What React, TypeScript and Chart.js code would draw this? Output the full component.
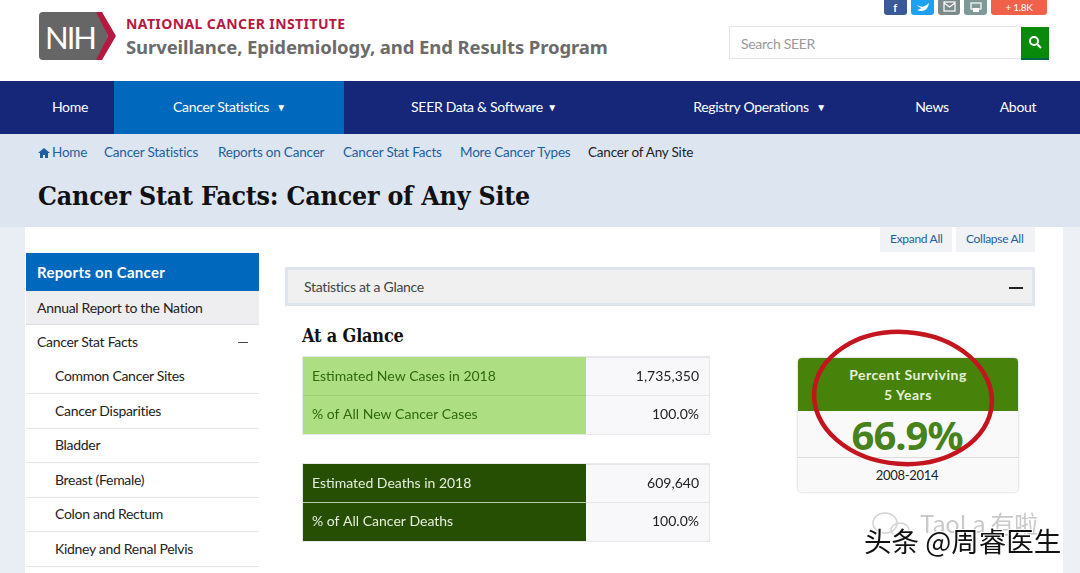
import { useRef, useEffect } from 'react'
import type { ReactNode } from 'react'
import { Chart, registerables } from 'chart.js'

Chart.register(...registerables)

const newCaseLabels = ['Estimated New Cases in 2018', '% of All New Cancer Cases']
const newCaseValues = ['1,735,350', '100.0%']
const deathLabels = ['Estimated Deaths in 2018', '% of All Cancer Deaths']
const deathValues = ['609,640', '100.0%']
const rowFill = [100, 100]
const sideItems = ['Common Cancer Sites', 'Cancer Disparities', 'Bladder', 'Breast (Female)', 'Colon and Rectum', 'Kidney and Renal Pelvis']

const SANS = 'Lato, "Noto Sans", sans-serif'
const SERIF = '"DejaVu Serif", serif'

interface GlanceProps {
  labels: string[]
  values: string[]
  fill: string
  text: string
  rule: string
  top: number
}

// tick labels on a vertical axis reserve room above and below the plot, which a table row can't spare
const noTickMargins = (scale: any, width: number) => {
  scale.width = width
  scale.paddingTop = 0
  scale.paddingBottom = 0
}

function GlanceTable({ labels, values, fill, text, rule, top }: GlanceProps) {
  const canvasRef = useRef<HTMLCanvasElement>(null)

  useEffect(() => {
    if (!canvasRef.current) return
    const chart = new Chart(canvasRef.current, {
      type: 'bar',
      data: {
        labels,
        datasets: [{ data: [...rowFill], backgroundColor: fill, barPercentage: 1, categoryPercentage: 1 }],
      },
      options: {
        indexAxis: 'y',
        responsive: true,
        maintainAspectRatio: false,
        animation: false,
        layout: { padding: 0 },
        plugins: { legend: { display: false }, tooltip: { enabled: false } },
        scales: {
          x: { display: false, min: 0, max: 100 },
          y: {
            position: 'left',
            border: { display: false },
            afterFit: (scale: any) => noTickMargins(scale, 0),
            // only the line between the two rows, not the outer edges
            grid: { offset: true, color: (ctx: any) => (ctx.index === 1 ? rule : 'transparent'), drawTicks: false, z: 1 },
            ticks: { mirror: true, padding: 9, z: 2, color: text, font: { family: 'Lato', size: 14 } },
          },
          y2: {
            type: 'category',
            labels: values,
            position: 'right',
            display: true,
            border: { display: false },
            afterFit: (scale: any) => noTickMargins(scale, 123),
            grid: { offset: true, drawOnChartArea: false, tickLength: 123, color: '#e6e6e8' },
            ticks: { mirror: true, padding: 113, color: '#222', font: { family: 'Lato', size: 14 } },
          },
        },
      },
    } as any)
    return () => { chart.destroy() }
  }, [])

  return (
    <div style={{ position: 'absolute', left: 303, top, width: 406, height: 77, background: '#f8f8fa', boxShadow: '0 0 0 1px #e8e8ea' }}>
      <canvas ref={canvasRef} style={{ display: 'block' }} />
    </div>
  )
}

interface TxtProps {
  x: number
  y: number
  size?: number
  color?: string
  weight?: number
  font?: string
  center?: boolean
  spacing?: number
  stretch?: string
  children: ReactNode
}

function Txt({ x, y, size = 14, color = '#222', weight = 400, font = SANS, center, spacing = -0.3, stretch, children }: TxtProps) {
  return (
    <div style={{
      position: 'absolute', left: x, top: y, whiteSpace: 'nowrap', fontFamily: font, fontSize: size, color,
      fontWeight: weight, letterSpacing: spacing, lineHeight: 1, fontStretch: stretch,
      transform: center ? 'translate(-50%,-50%)' : 'translateY(-50%)',
    }}>{children}</div>
  )
}

function Box({ x, y, w, h, bg, extra }: { x: number; y: number; w: number; h: number; bg: string; extra?: object }) {
  return <div style={{ position: 'absolute', left: x, top: y, width: w, height: h, background: bg, ...extra }} />
}

export default function App() {
  return (
    <div style={{ position: 'fixed', left: 0, top: 0, width: 1080, height: 573, overflow: 'hidden', background: '#fff' }}>
      {/* top social buttons */}
      <Box x={884} y={-4} w={23} h={19} bg="#3b5998" extra={{ borderRadius: 3 }} />
      <Box x={911} y={-4} w={23} h={19} bg="#1da1f2" extra={{ borderRadius: 3 }} />
      <Box x={938} y={-4} w={22} h={19} bg="#7b8a8b" extra={{ borderRadius: 3 }} />
      <Box x={964} y={-4} w={23} h={19} bg="#7f9a96" extra={{ borderRadius: 3 }} />
      <Box x={991} y={-4} w={56} h={19} bg="#ef6249" extra={{ borderRadius: 3 }} />
      <Txt x={895} y={7} size={11} color="#fff" weight={700} center>f</Txt>
      <Txt x={1019} y={7} size={10} color="#fff" center>+ 1.8K</Txt>
      <svg style={{ position: 'absolute', left: 0, top: 0 }} width={1080} height={16}>
        <path d="M917 5 Q922 8 925 6 Q928 4 929 3 Q928 10 922 11 Q919 11 917 10 Q921 9 921 8 Q918 7 917 5 Z" fill="#fff" />
        <rect x={944} y={2} width={11} height={9} fill="none" stroke="#fff" strokeWidth={1.2} />
        <path d="M944 3 L949.5 7 L955 3" fill="none" stroke="#fff" strokeWidth={1.2} />
        <rect x={971} y={3} width={10} height={6} fill="none" stroke="#fff" strokeWidth={1.2} />
        <rect x={973} y={8} width={6} height={4} fill="#fff" />
      </svg>

      {/* logo */}
      <svg style={{ position: 'absolute', left: 36, top: 10 }} width={84} height={54}>
        <path d="M7 2 H62 L72 26 L62 50 H7 Q3 50 3 46 V6 Q3 2 7 2 Z" fill="#666" />
        <path d="M60 2 H66 L80 26 L66 50 H60 L72 26 Z" fill="#b5193f" />
      </svg>
      <Txt x={45} y={37} size={31} color="#fff" spacing={-2}>NIH</Txt>
      <Txt x={126} y={24} size={14} color="#b5193f" weight={700} font='"Noto Sans", sans-serif' spacing={0.4}>NATIONAL CANCER INSTITUTE</Txt>
      <Txt x={126} y={47} size={18.5} color="#6b6b6b" weight={700} font='"Noto Sans", sans-serif' spacing={-0.1}>Surveillance, Epidemiology, and End Results Program</Txt>

      {/* search */}
      <Box x={730} y={27} w={291} h={31} bg="#fff" extra={{ boxShadow: '0 0 0 1px #e6e6e6' }} />
      <Txt x={741} y={44} size={14} color="#999">Search SEER</Txt>
      <Box x={1021} y={27} w={28} h={31} bg="#0a8a0a" extra={{ borderBottom: '2px solid #064' }} />
      <svg style={{ position: 'absolute', left: 1028, top: 35 }} width={14} height={14}>
        <circle cx={6} cy={6} r={4} fill="none" stroke="#fff" strokeWidth={2} />
        <path d="M9 9 L13 13" stroke="#fff" strokeWidth={2} />
      </svg>

      {/* nav */}
      <Box x={0} y={81} w={1080} h={53} bg="#16277a" />
      <Box x={114} y={81} w={230} h={53} bg="#0068bd" />
      <Txt x={70} y={107} color="#fff" center>Home</Txt>
      <Txt x={221} y={107} color="#fff" center>Cancer Statistics</Txt>
      <Txt x={281} y={107} size={10} color="#fff" center>▼</Txt>
      <Txt x={477} y={107} color="#fff" center>SEER Data &amp; Software</Txt>
      <Txt x={552} y={107} size={10} color="#fff" center>▼</Txt>
      <Txt x={751} y={107} color="#fff" center>Registry Operations</Txt>
      <Txt x={821} y={107} size={10} color="#fff" center>▼</Txt>
      <Txt x={932} y={107} color="#fff" center>News</Txt>
      <Txt x={1018} y={107} color="#fff" center>About</Txt>

      {/* band behind the page */}
      <Box x={0} y={134} w={1080} h={439} bg="#dde5f1" />
      <Box x={0} y={227} w={25} h={346} bg="#e9edf4" />
      <Box x={1063} y={227} w={17} h={346} bg="#edf0f5" />
      <Box x={25} y={227} w={1038} h={346} bg="#fff" />

      <svg style={{ position: 'absolute', left: 38, top: 147 }} width={12} height={12}>
        <path d="M0 6 L6 1 L12 6 L10 6 L10 11 L7 11 L7 8 L5 8 L5 11 L2 11 L2 6 Z" fill="#1f5f9e" />
      </svg>
      <Txt x={52} y={153} size={13.5} color="#1f5f9e" spacing={-0.2}>Home</Txt>
      <Txt x={104} y={153} size={13.5} color="#1f5f9e" spacing={-0.2}>Cancer Statistics</Txt>
      <Txt x={218} y={153} size={13.5} color="#1f5f9e" spacing={-0.2}>Reports on Cancer</Txt>
      <Txt x={343} y={153} size={13.5} color="#1f5f9e" spacing={-0.2}>Cancer Stat Facts</Txt>
      <Txt x={460} y={153} size={13.5} color="#1f5f9e" spacing={-0.2}>More Cancer Types</Txt>
      <Txt x={588} y={153} size={13.5} color="#222" spacing={-0.2}>Cancer of Any Site</Txt>

      <Txt x={38} y={196} size={26.5} color="#111" weight={700} font={SERIF} stretch="condensed" spacing={-0.2}>Cancer Stat Facts: Cancer of Any Site</Txt>

      {/* expand / collapse */}
      <Box x={880} y={227} w={72} h={25} bg="#f0f2f5" />
      <Box x={956} y={227} w={79} h={25} bg="#f0f2f5" />
      <Txt x={890} y={239} size={12} color="#1f5f9e">Expand All</Txt>
      <Txt x={966} y={239} size={12} color="#1f5f9e">Collapse All</Txt>

      {/* sidebar */}
      <Box x={26} y={253} w={233} h={38} bg="#0068bd" />
      <Txt x={37} y={272} size={15} color="#fff" weight={700} spacing={0.3}>Reports on Cancer</Txt>
      <Box x={26} y={291} w={233} h={34} bg="#eeeef0" extra={{ borderBottom: '1px solid #ddd', boxSizing: 'border-box' }} />
      <Txt x={37} y={308}>Annual Report to the Nation</Txt>
      <Txt x={37} y={342}>Cancer Stat Facts</Txt>
      <Box x={238} y={342} w={10} h={1} bg="#444" />
      {sideItems.map((item, i) => (
        <div key={item}>
          <Txt x={55} y={376 + i * 34.5}>{item}</Txt>
          <Box x={26} y={393 + i * 34.6} w={233} h={1} bg="#e6e6e6" />
        </div>
      ))}

      {/* accordion bar */}
      <Box x={285} y={267} w={750} h={39} bg="#f0f0f0" extra={{ boxShadow: 'inset 0 0 0 3px #dfe5ee' }} />
      <Txt x={304} y={287} color="#444">Statistics at a Glance</Txt>
      <Box x={1009} y={287} w={14} h={2} bg="#222" />

      <Txt x={302} y={336} size={18} color="#111" weight={700} font={SERIF} stretch="condensed" spacing={-0.2}>At a Glance</Txt>

      <GlanceTable labels={newCaseLabels} values={newCaseValues} fill="#aede82" text="#2e6a0c" rule="#a0d076" top={357} />
      <GlanceTable labels={deathLabels} values={deathValues} fill="#264f03" text="#e6efdc" rule="#b8c9a8" top={464} />

      {/* survival card */}
      <Box x={798} y={358} w={220} h={134} bg="#f9f9fa" extra={{ borderRadius: 4, boxShadow: '0 0 2px 1px #e2e2e2' }} />
      <Box x={798} y={358} w={220} h={53} bg="#47820a" extra={{ borderRadius: '4px 4px 0 0' }} />
      <Box x={798} y={457} w={220} h={1} bg="#dcdcdc" />
      <Txt x={908} y={375} color="#e6f0d8" weight={700} center spacing={0.5}>Percent Surviving</Txt>
      <Txt x={908} y={395} color="#e6f0d8" weight={700} center spacing={0.5}>5 Years</Txt>
      <Txt x={907} y={435} size={40} color="#47821c" weight={700} center font='"Noto Sans", sans-serif' spacing={-1}>66.9%</Txt>
      <Txt x={907} y={475} size={13} color="#222" center>2008-2014</Txt>
      <svg style={{ position: 'absolute', left: 0, top: 0 }} width={1080} height={573}>
        <ellipse cx={903} cy={398} rx={89} ry={66} fill="none" stroke="#c4141e" strokeWidth={4.5} transform="rotate(4 903 398)" />
        <ellipse cx={885} cy={523} rx={12} ry={10} fill="none" stroke="#d4d4d4" strokeWidth={1.5} />
        <ellipse cx={900} cy={530} rx={9} ry={7} fill="none" stroke="#d4d4d4" strokeWidth={1.5} />
      </svg>

      {/* watermark */}
      <Txt x={920} y={523} size={24} color="#c9c9c9" font='"Noto Sans CJK SC", sans-serif'>TaoLa 有啦</Txt>
      <div style={{
        position: 'absolute', left: 864, top: 527, whiteSpace: 'nowrap', fontFamily: '"Noto Sans CJK SC", sans-serif',
        fontSize: 27.5, lineHeight: 1, color: '#111', textShadow: '1px 1px 0 #fff, -1px -1px 0 #fff, 1px -1px 0 #fff, -1px 1px 0 #fff',
      }}>头条 @周睿医生</div>
    </div>
  )
}
